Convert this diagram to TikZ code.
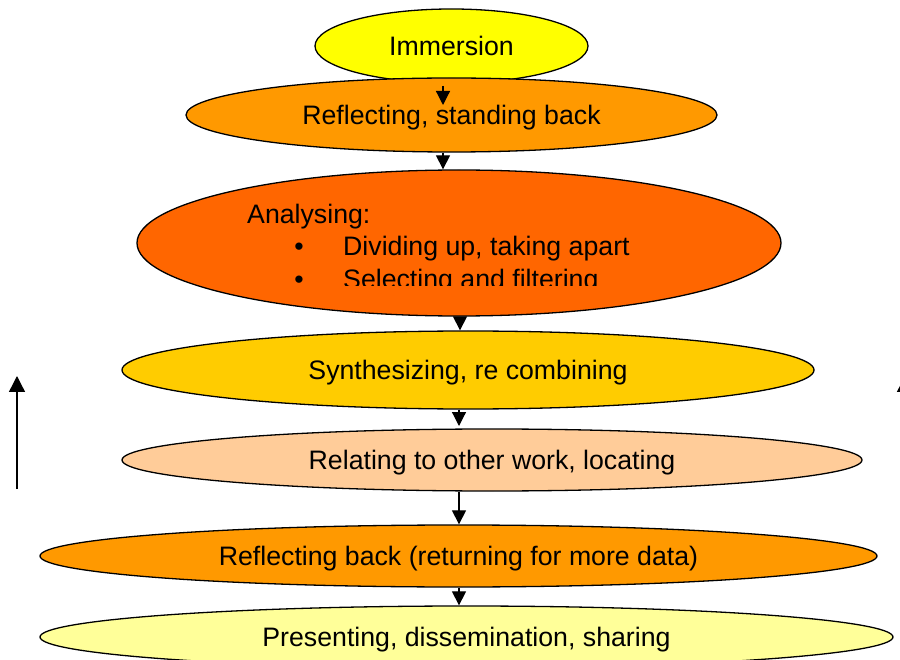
\documentclass[tikz,border=0pt]{standalone}
\usepackage{fontspec}
\setmainfont{Liberation Sans}
\usetikzlibrary{shapes.geometric,arrows.meta}
\definecolor{cImm}{HTML}{FFFF00}
\definecolor{cRefl}{HTML}{FF9900}
\definecolor{cAnal}{HTML}{FF6600}
\definecolor{cSyn}{HTML}{FFCC00}
\definecolor{cRel}{HTML}{FFCC99}
\definecolor{cPres}{HTML}{FFFF99}
\begin{document}
\begin{tikzpicture}[x=1pt,y=-1pt,
  ell/.style={ellipse,draw=black,line width=1.3pt,inner sep=0pt,font=\fontsize{26.7}{32}\selectfont,text height=19pt,text depth=0pt},
  txt/.style={inner sep=0pt,font=\fontsize{26.7}{32}\selectfont},
  arr/.style={line width=1.2pt,-{Triangle[width=14pt,length=14pt]}},
  bigarr/.style={line width=1.4pt,-{Triangle[width=16pt,length=16pt]}}]
\useasboundingbox (0,0) rectangle (900,660);
\clip (0,0) rectangle (900,660);
% ellipses
\node[ell,fill=cImm,minimum width=273pt,minimum height=74pt] (imm) at (451.5,46) {Immersion};
\node[ell,fill=cRefl,minimum width=531pt,minimum height=74pt] (refl) at (451.5,115) {Reflecting, standing back};
\node[ell,fill=cAnal,minimum width=644pt,minimum height=146pt] (anal) at (459,243) {};
\node[ell,fill=cSyn,minimum width=692pt,minimum height=78pt] (syn) at (468,370) {Synthesizing, re combining};
\node[ell,fill=cRel,minimum width=740pt,minimum height=62pt] (rel) at (492,460) {Relating to other work, locating};
\node[ell,fill=cRefl,minimum width=837pt,minimum height=62pt] (rb) at (458.5,556) {Reflecting back (returning for more data)};
\node[ell,fill=cPres,minimum width=853pt,minimum height=62pt] (pres) at (466.5,637) {Presenting, dissemination, sharing};
% analysing text (clipped as in the original)
\begin{scope}
\clip (140,190) rectangle (780,286);
\node[txt,anchor=base west] (atitle) at (247,224) {Analysing:};
\node[txt,anchor=base] (b1) at (299,256) {•};
\node[txt,anchor=base west] (t1) at (343,256) {Dividing up, taking apart};
\node[txt,anchor=base] (b2) at (299,289) {•};
\node[txt,anchor=base west] (t2) at (343,289) {Selecting and filtering};
\end{scope}
% connector positions
\coordinate (xa) at (443,0);
\coordinate (xb) at (460,0);
\coordinate (xc) at (459,0);
\coordinate (immstart) at (443,86);
\coordinate (immtip) at (443,105);
\coordinate (reltop) at (459,426);
\draw[arr] (immstart) -- (immtip);
\draw[arr] (refl.south -| xa) -- (anal.north -| xa);
\draw[arr] (anal.south -| xb) -- (syn.north -| xb);
\draw[arr] (syn.south -| xc) -- (reltop);
\draw[arr] (rel.south -| xc) -- (rb.north -| xc);
\draw[arr] (rb.south -| xc) -- (pres.north -| xc);
% side arrows
\coordinate (lbot) at (17,489);
\coordinate (ltop) at (17,376);
\draw[bigarr] (lbot) -- (ltop);
\coordinate (rbot) at (905,489);
\coordinate (rtop) at (905,376);
\draw[bigarr] (rbot) -- (rtop);
\end{tikzpicture}
\end{document}
